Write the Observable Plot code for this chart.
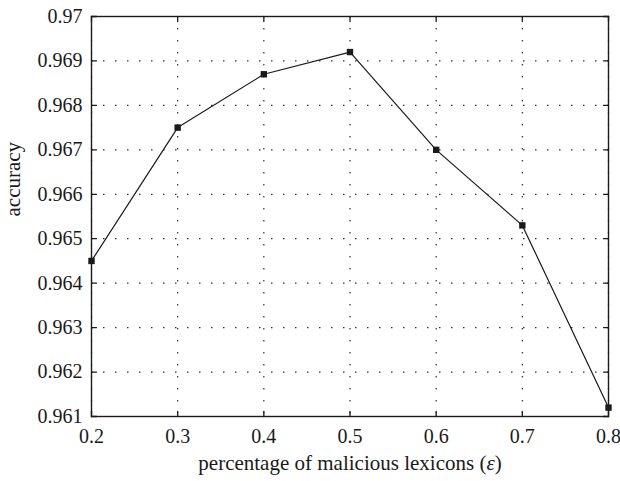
<!DOCTYPE html>
<html><head><meta charset="utf-8">
<script src="https://cdn.jsdelivr.net/npm/d3@7"></script>
<script src="https://cdn.jsdelivr.net/npm/@observablehq/plot@0.6"></script>
<style>body{margin:0;background:#fff} svg text{font-family:'Liberation Serif','DejaVu Serif',serif !important; font-variant:normal !important; font-variant-numeric:normal !important}</style>
</head><body><div id="chart"></div>
<script>
const percentages = [0.2, 0.3, 0.4, 0.5, 0.6, 0.7, 0.8];
const accuracy = [0.9645, 0.9675, 0.9687, 0.9692, 0.9670, 0.9653, 0.9612];
const xTicks = [0.2, 0.3, 0.4, 0.5, 0.6, 0.7, 0.8];
const yTicks = [0.961, 0.962, 0.963, 0.964, 0.965, 0.966, 0.967, 0.968, 0.969, 0.97];
const xLabel = "percentage of malicious lexicons (ε)";
const yLabel = "accuracy";

const data = percentages.map((p, i) => ({p, acc: accuracy[i]}));
const font = "'Liberation Serif', 'DejaVu Serif', serif";
const ink = "#1a1a1a";
const tickShape = {draw(ctx, l) { ctx.moveTo(0, 0); ctx.lineTo(0, -l); }};
const tickOpts = {length: 5, shape: tickShape, anchor: "start", stroke: ink, strokeWidth: 1.3};

const chart = Plot.plot({
  width: 620,
  height: 481,
  marginLeft: 91,
  marginRight: 12,
  marginTop: 16,
  marginBottom: 65,
  style: {fontFamily: font, fontSize: "20px", color: ink, background: "#fff"},
  x: {domain: [0.2, 0.8]},
  y: {domain: [0.961, 0.97]},
  marks: [
    Plot.gridX(xTicks, {stroke: "#333", strokeOpacity: 1, strokeWidth: 1.2, strokeDasharray: "1.5,10.5"}),
    Plot.gridY(yTicks, {stroke: "#333", strokeOpacity: 1, strokeWidth: 1.2, strokeDasharray: "1.5,10.5"}),
    Plot.axisX(xTicks, {tickSize: 0, tickPadding: 12, fontSize: 20, fontFamily: font, fontVariant: "normal", label: null, tickFormat: d => String(d)}),
    Plot.axisY(yTicks, {tickSize: 0, tickPadding: 9, fontSize: 20, fontFamily: font, fontVariant: "normal", label: null, tickFormat: d => String(d)}),
    Plot.vector(xTicks, {x: d => d, frameAnchor: "bottom", rotate: 0, ...tickOpts}),
    Plot.vector(xTicks, {x: d => d, frameAnchor: "top", rotate: 180, ...tickOpts}),
    Plot.vector(yTicks, {y: d => d, frameAnchor: "left", rotate: 90, ...tickOpts}),
    Plot.vector(yTicks, {y: d => d, frameAnchor: "right", rotate: -90, ...tickOpts}),
    Plot.frame({stroke: ink, strokeWidth: 1.4}),
    Plot.line(data, {x: "p", y: "acc", stroke: ink, strokeWidth: 1.2}),
    Plot.dot(data, {x: "p", y: "acc", symbol: "square", r: 3.6, fill: ink, stroke: null}),
    Plot.text([xLabel], {frameAnchor: "bottom", dy: 47, lineAnchor: "middle", fontSize: 21, fontFamily: font, fill: ink}),
    Plot.text([yLabel], {frameAnchor: "left", dx: -78, rotate: -90, lineAnchor: "middle", fontSize: 21, fontFamily: font, fill: ink})
  ]
});

d3.select(chart).selectAll("text").each(function() {
  if (this.textContent === xLabel) {
    const t = d3.select(this);
    const parts = xLabel.split("ε");
    t.text(null);
    t.append("tspan").text(parts[0]);
    t.append("tspan").attr("font-style", "italic").text("ε");
    t.append("tspan").text(parts[1]);
  }
});

document.getElementById("chart").appendChild(chart);
</script>
</body></html>
